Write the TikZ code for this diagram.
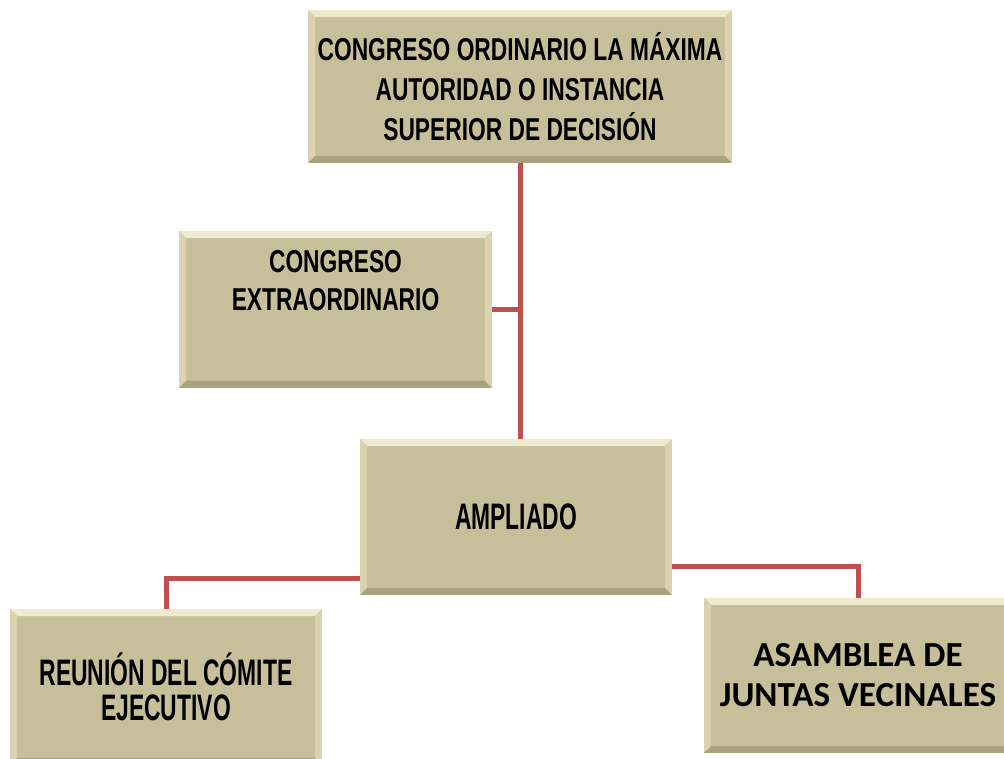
\documentclass[tikz,border=0pt]{standalone}
\usepackage{fontspec}
\usetikzlibrary{calc}
\newfontfamily\agency[FakeStretch=0.72]{Liberation Sans}
\newfontfamily\agencyalta[FakeStretch=0.62]{Liberation Sans}
\newfontfamily\calibri{Carlito}
\definecolor{cajafondo}{HTML}{C6BF9A}
\definecolor{cajaluz}{HTML}{EFEACB}
\definecolor{cajaborde}{HTML}{D9D3AF}
\definecolor{cajasombra}{HTML}{A9A27E}
\definecolor{linea}{HTML}{C0504D}

\begin{document}
\begin{tikzpicture}[x=0.02cm,y=-0.02cm,
    caja/.style={rectangle,fill=cajafondo,align=center,inner sep=0pt,
      minimum width=6.24cm,minimum height=3.12cm,
      path picture={
        \coordinate (nw) at (path picture bounding box.north west);
        \coordinate (ne) at (path picture bounding box.north east);
        \coordinate (sw) at (path picture bounding box.south west);
        \coordinate (se) at (path picture bounding box.south east);
        \fill[cajaluz] (nw) -- (ne) -- ($(ne)+(-7,7)$) -- ($(nw)+(7,7)$) -- cycle;
        \fill[cajaborde] (nw) -- ($(nw)+(7,7)$) -- ($(sw)+(7,-7)$) -- (sw) -- cycle;
        \fill[cajaborde] (ne) -- (se) -- ($(se)+(-7,-7)$) -- ($(ne)+(-7,7)$) -- cycle;
        \fill[cajasombra] (sw) -- ($(sw)+(7,-7)$) -- ($(se)+(-7,-7)$) -- (se) -- cycle;
      }},
    agencia/.style 2 args={font=\agency\bfseries\fontsize{#1}{#2}\selectfont},
    agenciaalta/.style 2 args={font=\agencyalta\bfseries\fontsize{#1}{#2}\selectfont},
    conector/.style={draw=linea,line width=0.1cm}]
  \clip (0,0) rectangle (1004,758);
  \fill[white] (0,0) rectangle (1004,758);
  \node[caja,minimum width=8.48cm,minimum height=3.06cm,agencia={18}{22.7}] (sup) at (520,86.5)
    {CONGRESO ORDINARIO LA MÁXIMA\\AUTORIDAD O INSTANCIA\\SUPERIOR DE DECISIÓN};
  \node[caja,minimum width=6.26cm,minimum height=3.14cm,agencia={18}{21.5}] (ext) at (335.5,309.5)
    {CONGRESO\\EXTRAORDINARIO\\[0.4cm]\mbox{}};
  \node[caja,agenciaalta={21}{24}] (amp) at (516,517) {AMPLIADO};
  \node[caja,agenciaalta={21}{20}] (reu) at (166,687)
    {REUNIÓN DEL CÓMITE\\EJECUTIVO};
  \node[caja,minimum width=6.16cm,minimum height=3.10cm,
    font=\calibri\bfseries\fontsize{20}{22.7}\selectfont] (asa) at (858,675.5)
    {ASAMBLEA DE\\JUNTAS VECINALES};
  \draw[conector] (sup.south) -- (sup.south |- amp.north);
  \draw[conector] (ext.east) -- (ext.east -| sup.south);
  \draw[conector] ($(amp.west)+(0,61)$) -| (reu.north);
  \draw[conector] ($(amp.east)+(0,49)$) -| (asa.north);
\end{tikzpicture}
\end{document}
